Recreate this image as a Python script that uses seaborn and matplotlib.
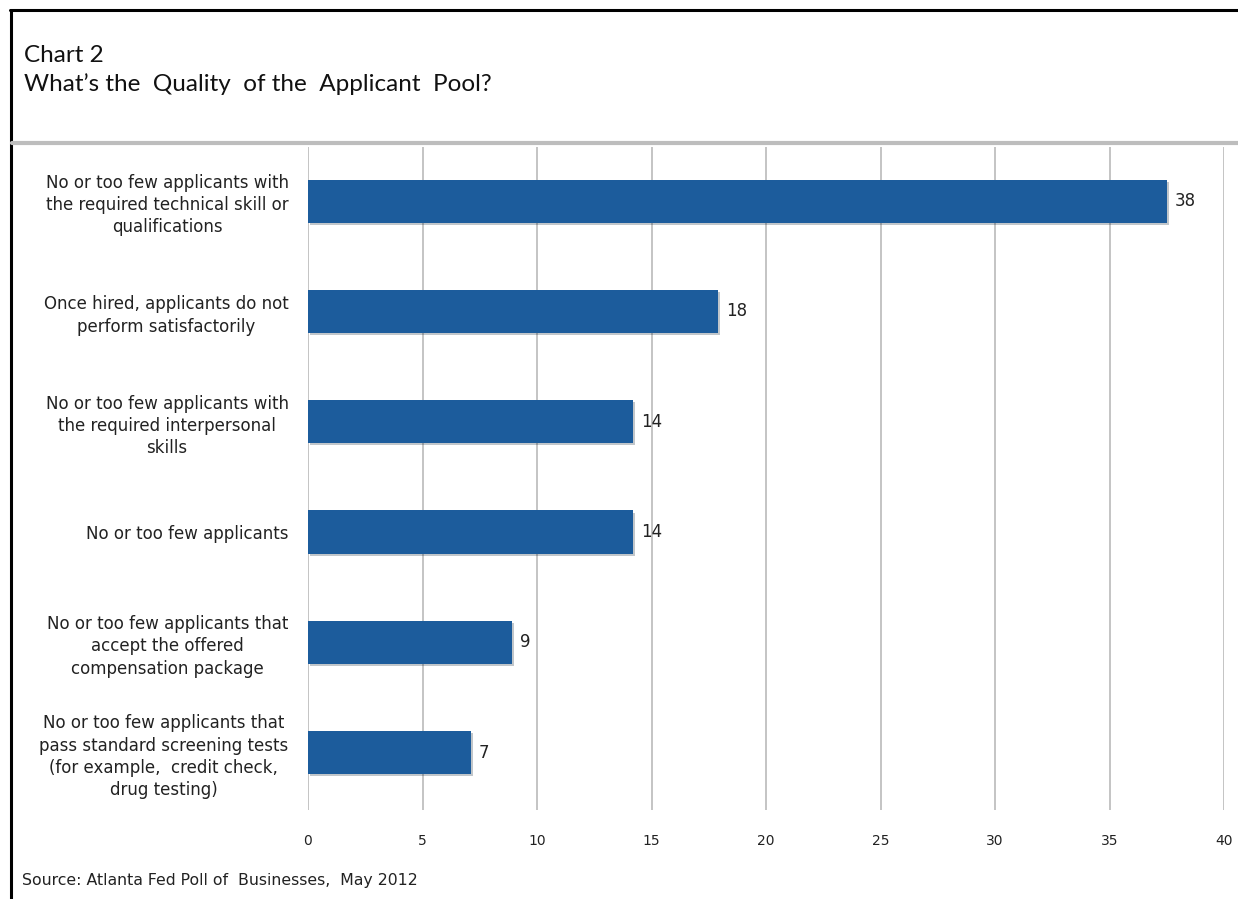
import matplotlib
matplotlib.use("Agg")
import matplotlib.pyplot as plt
import matplotlib.patheffects as pe
from matplotlib.lines import Line2D
import seaborn as sns
import pandas as pd

categories = [
    "No or too few applicants with\nthe required technical skill or\nqualifications",
    "Once hired, applicants do not\nperform satisfactorily",
    "No or too few applicants with\nthe required interpersonal\nskills",
    "No or too few applicants",
    "No or too few applicants that\naccept the offered\ncompensation package",
    "No or too few applicants that\npass standard screening tests\n(for example,  credit check,\ndrug testing)",
]
values = [37.5, 17.9, 14.2, 14.2, 8.9, 7.1]
value_labels = ["38", "18", "14", "14", "9", "7"]
x_ticks = [0, 5, 10, 15, 20, 25, 30, 35, 40]

df = pd.DataFrame({"category": categories, "value": values})

sns.set_theme(style="white")
plt.rcParams["font.family"] = ["DejaVu Sans"]

W, H = 1238, 899
fig = plt.figure(figsize=(W / 100, H / 100), dpi=100)
ax = fig.add_axes([308 / W, 1 - 810 / H, (1224 - 308) / W, (810 - 147) / H])

sns.barplot(data=df, y="category", x="value", orient="h", color="#1C5C9C",
            saturation=1, width=0.39, linewidth=0, ax=ax)

for p in ax.patches:
    p.set_path_effects([pe.SimplePatchShadow(offset=(1.5, -1.5), alpha=0.25), pe.Normal()])

ax.bar_label(ax.containers[0], labels=value_labels, padding=6, fontsize=12, color="#222222")

ax.set_xlim(0, 40)
ax.set_ylim(5.52, -0.49)
ax.set_xticks(x_ticks)
ax.set_xticklabels([str(t) for t in x_ticks])
ax.grid(axis="x", color="#C4C4C4", linewidth=1.4)
ax.set_axisbelow(True)
for s in ax.spines.values():
    s.set_visible(False)
ax.set_xlabel("")
ax.set_ylabel("")
ax.tick_params(axis="x", length=0, pad=17, labelsize=10, labelcolor="#222222")
ax.tick_params(axis="y", length=0, pad=14, labelsize=12, labelcolor="#222222")
for lab in ax.get_yticklabels():
    lab.set_multialignment("center")
    lab.set_linespacing(1.3)

# Titles and source
fig.text(24 / W, 1 - 55 / H, "Chart 2", fontsize=17.5, family="Lato", va="center", color="#111111")
fig.text(24 / W, 1 - 84 / H, "What\u2019s the  Quality  of the  Applicant  Pool?", fontsize=17.5,
         family="Lato", va="center", color="#111111")
fig.text(22 / W, 1 - 881 / H, "Source: Atlanta Fed Poll of  Businesses,  May 2012", fontsize=11.3,
         va="center", color="#222222")

# frame lines
fig.add_artist(Line2D([10 / W, 1], [1 - 9.5 / H, 1 - 9.5 / H], color="black", linewidth=2.2,
                      transform=fig.transFigure))
fig.add_artist(Line2D([10.5 / W, 10.5 / W], [0, 1 - 9.5 / H], color="black", linewidth=2.2,
                      transform=fig.transFigure))
fig.add_artist(Line2D([12 / W, 1], [1 - 143 / H, 1 - 143 / H], color="#BDBDBD", linewidth=3,
                      transform=fig.transFigure))

fig.savefig("out.png", dpi=100)
